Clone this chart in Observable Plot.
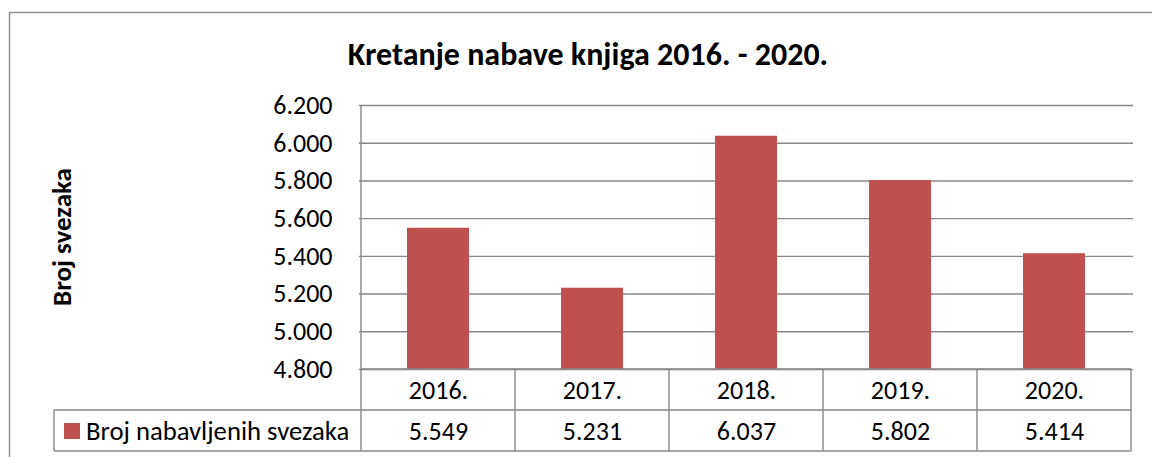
<!DOCTYPE html>
<html><head><meta charset="utf-8">
<script src="https://cdn.jsdelivr.net/npm/d3@7"></script>
<script src="https://cdn.jsdelivr.net/npm/@observablehq/plot@0.6"></script>
<style>
html,body{margin:0;padding:0;background:#fff;overflow:hidden;}
</style></head><body><div id="chart"></div>
<script>
const years = ["2016.", "2017.", "2018.", "2019.", "2020."];
const values = [5549, 5231, 6037, 5802, 5414];
const yTicks = [4800, 5000, 5200, 5400, 5600, 5800, 6000, 6200];
const seriesName = "Broj nabavljenih svezaka";
const title = "Kretanje nabave knjiga 2016. - 2020.";
const yLabel = "Broj svezaka";

const data = years.map((y, i) => ({year: y, value: values[i]}));
const fmt = d3.formatLocale({decimal: ",", thousands: ".", grouping: [3]}).format(",.0f");
const FONT = "Carlito, Calibri, Lato, sans-serif";
const FS = 26;
const BAR = "#C0504D";
const LINE = "#888888";
const yMin = d3.min(yTicks), yMax = d3.max(yTicks);

const chart = Plot.plot({
  width: 1152, height: 457,
  marginLeft: 359, marginRight: 19, marginTop: 105, marginBottom: 88,
  style: {fontFamily: FONT, background: "#fff", color: "#000"},
  x: {domain: years, paddingInner: 0.6, paddingOuter: 0.3, axis: null},
  y: {domain: [yMin, yMax], axis: null},
  marks: [
    Plot.gridY(yTicks, {stroke: LINE, strokeOpacity: 1, strokeWidth: 1.4}),
    Plot.barY(data, {x: "year", y1: () => yMin, y2: "value", fill: BAR}),
    Plot.axisY(yTicks, {tickSize: 0, tickPadding: 27, tickFormat: fmt, fontSize: FS, fill: "#000", label: null}),
    Plot.text(data, {x: "year", y: () => yMin, text: "year", dy: 21, fontSize: FS, fill: "#000"}),
    Plot.text(data, {x: "year", y: () => yMin, text: d => fmt(d.value), dy: 62, fontSize: FS, fill: "#000"})
  ]
});
document.getElementById("chart").appendChild(chart);

const svg = d3.select(chart);
const sx = chart.scale("x"), sy = chart.scale("y");
const step = sx.step ?? (sx.range[1] - sx.range[0]) / years.length;
const bw = sx.bandwidth;
const lefts = years.map(y => sx.apply(y) - (step - bw) / 2);
const right = lefts[lefts.length - 1] + step;
const x0 = lefts[0];
const yb = sy.apply(yMin), yt = sy.apply(yMax);
const rowH = 41;
const g = svg.append("g").attr("stroke", LINE).attr("stroke-width", 1.4).attr("fill", "none");
// outer frame
g.append("rect").attr("x", 9.5).attr("y", 12.5).attr("width", 1300).attr("height", 600);
// axis line
g.append("line").attr("x1", x0).attr("x2", x0).attr("y1", yt).attr("y2", yb + 2 * rowH);
// table horizontal lines
g.append("line").attr("x1", x0).attr("x2", right).attr("y1", yb).attr("y2", yb);
g.append("line").attr("x1", 54).attr("x2", right).attr("y1", yb + rowH).attr("y2", yb + rowH);
g.append("line").attr("x1", 54).attr("x2", right).attr("y1", yb + 2 * rowH).attr("y2", yb + 2 * rowH);
g.append("line").attr("x1", 54).attr("x2", 54).attr("y1", yb + rowH).attr("y2", yb + 2 * rowH);
lefts.slice(1).concat([right]).forEach(x => {
  g.append("line").attr("x1", x).attr("x2", x).attr("y1", yb).attr("y2", yb + 2 * rowH);
});
// legend
svg.append("rect").attr("x", 64).attr("y", yb + rowH + 13).attr("width", 16).attr("height", 16).attr("fill", BAR);
svg.append("text").attr("x", 86).attr("y", yb + rowH + rowH / 2).attr("dy", "0.35em").attr("text-anchor", "start")
  .attr("font-size", 26.7).attr("fill", "#000").text(seriesName);
// title
svg.append("text").attr("x", 588).attr("y", 54).attr("dy", "0.35em").attr("text-anchor", "middle")
  .attr("font-size", 32).attr("font-weight", "bold").attr("fill", "#000").text(title);
// y label
svg.append("text").attr("transform", `translate(62,${(yt + yb) / 2}) rotate(-90)`).attr("dy", "0.35em")
  .attr("text-anchor", "middle").attr("font-size", 27).attr("font-weight", "bold").attr("fill", "#000").text(yLabel);
</script></body></html>
